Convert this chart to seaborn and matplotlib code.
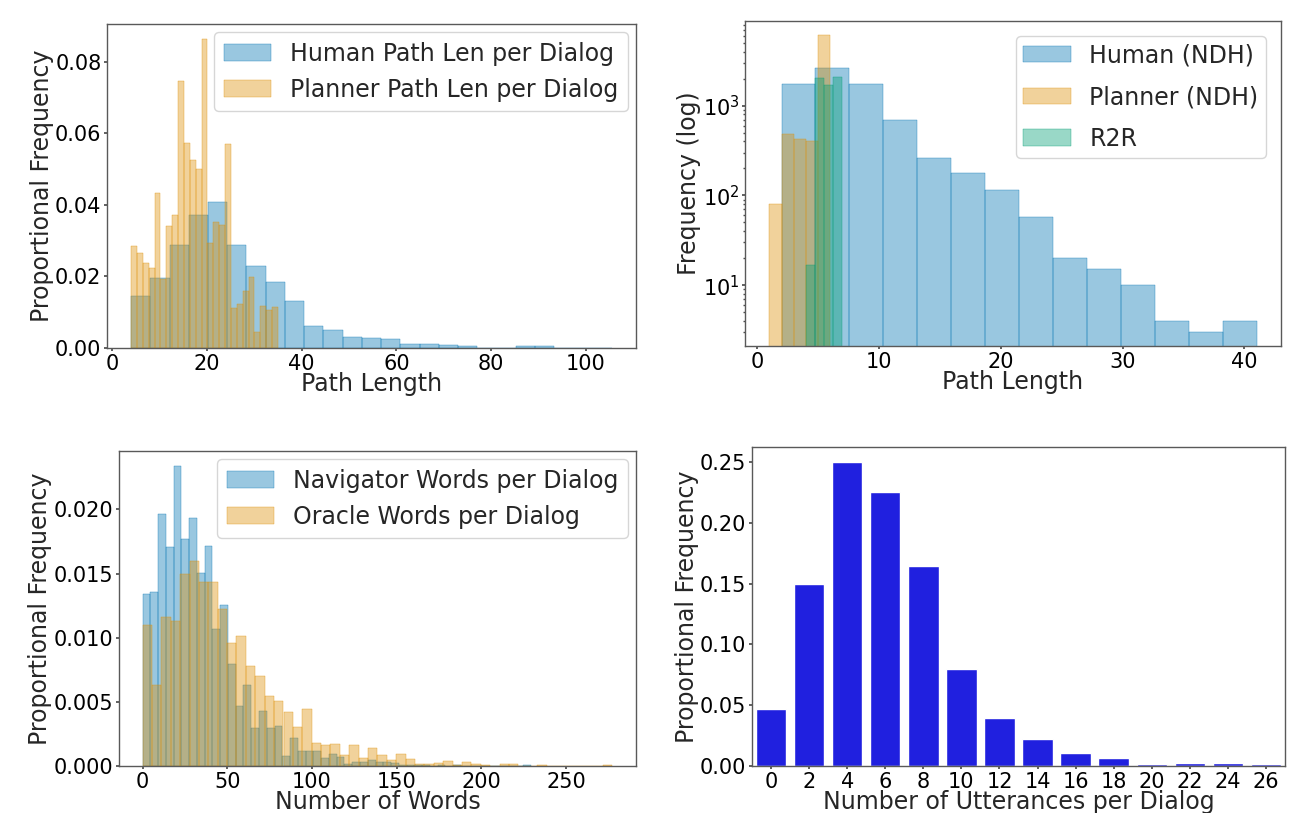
import numpy as np
import matplotlib
matplotlib.use("Agg")
import matplotlib.pyplot as plt
import seaborn as sns

# ---------------- data ----------------
# Top-left: path length per dialog (density, 25 bins each)
human_path_range = (4.0, 105.5)
human_path_density = [0.0144, 0.0195, 0.0289, 0.0371, 0.0408, 0.0289, 0.0230, 0.0185,
                      0.0131, 0.0061, 0.0050, 0.0030, 0.0027, 0.0024, 0.0010, 0.0010,
                      0.00075, 0.00047, 0.0001, 0.00005, 0.00047, 0.00047, 0.00005,
                      0.00005, 0.00005]
planner_path_range = (4.0, 35.0)
planner_path_density = [0.0286, 0.0264, 0.0237, 0.0223, 0.0434, 0.0192, 0.0340, 0.0371,
                        0.0746, 0.0574, 0.0524, 0.0500, 0.0862, 0.0292, 0.0351, 0.0343,
                        0.0571, 0.0113, 0.0124, 0.0158, 0.0197, 0.0045, 0.0118, 0.0106,
                        0.0115]

# Top-right: path length counts (log)
ndh_human_range = (2.0, 41.0)
ndh_human_counts = [1760, 2625, 1760, 698, 264, 178, 116, 57, 20, 15, 10, 4, 3, 4]
ndh_planner_range = (1.0, 6.0)
ndh_planner_counts = [81, 488, 426, 408, 6160]
r2r_range = (4.0, 7.0)
r2r_counts = [17, 2030, 1715, 2100]

# Bottom-left: words per dialog (density, 50 bins each)
nav_words_range = (0.0, 229.3)
nav_words_density = [0.01338, 0.01354, 0.01963, 0.01706, 0.02338, 0.01768, 0.01932, 0.01502,
                     0.01713, 0.01065, 0.01253, 0.00792, 0.00464, 0.00628, 0.00300, 0.00432,
                     0.00294, 0.00315, 0.00080, 0.00216, 0.00120, 0.00120, 0.00120, 0.00065,
                     0.00096, 0.00070, 0.00018, 0.00029, 0.00029, 0.00050, 0.00029, 0.00029,
                     0.00020, 0.00010, 0.00010, 0.00008, 0.00005, 0.0, 0.00005, 0.0,
                     0.00005, 0.0, 0.0, 0.0, 0.0, 0.0, 0.0, 0.0, 0.0, 0.00010]
ora_words_range = (0.0, 277.5)
ora_words_density = [0.01096, 0.00628, 0.01161, 0.01128, 0.01495, 0.01596, 0.01432, 0.01432,
                     0.01221, 0.00961, 0.01010, 0.00776, 0.00698, 0.00542, 0.00503, 0.00424,
                     0.00307, 0.00448, 0.00182, 0.00167, 0.00174, 0.00089, 0.00167, 0.00065,
                     0.00143, 0.00089, 0.00050, 0.00096, 0.00057, 0.00018, 0.00018, 0.00026,
                     0.00042, 0.00010, 0.00034, 0.00018, 0.00010, 0.0, 0.00018, 0.00018,
                     0.0, 0.0, 0.00005, 0.0, 0.0, 0.0, 0.0, 0.0, 0.0, 0.00005]

# Bottom-right: utterances per dialog
utter_labels = ["0", "2", "4", "6", "8", "10", "12", "14", "16", "18", "20", "22", "24", "26"]
utter_freq = [0.0466, 0.1497, 0.2500, 0.2257, 0.1644, 0.0801, 0.0393, 0.0221, 0.0106,
              0.0065, 0.0016, 0.0025, 0.0025, 0.0016]

# ---------------- style ----------------
sns.set_theme(style="ticks", palette="colorblind")
plt.rcParams.update({
    "font.family": ["DejaVu Sans"],
    "xtick.labelsize": 15, "ytick.labelsize": 15,
    "axes.labelsize": 17, "legend.fontsize": 17,
    "xtick.major.size": 2.2, "ytick.major.size": 2.2,
    "xtick.minor.size": 1.3, "ytick.minor.size": 1.3,
    "xtick.major.pad": 1.8, "ytick.major.pad": 1.8,
    "xtick.color": "0.3", "ytick.color": "0.3",
    "xtick.labelcolor": "black", "ytick.labelcolor": "black",
    "axes.edgecolor": "0.35", "axes.linewidth": 1.0,
    "legend.frameon": True, "legend.framealpha": 0.8, "legend.edgecolor": "0.8",
    "legend.fancybox": True,
})
pal = sns.color_palette("colorblind")
blue, orange, green = pal[0], pal[1], pal[2]

W, H = 1289, 813
fig = plt.figure(figsize=(W / 100, H / 100), dpi=100)


def ax_px(left, top, right, bottom):
    return fig.add_axes([left / W, 1 - bottom / H, (right - left) / W, (bottom - top) / H])


def hist_from(ax, rng, vals, color, label):
    n = len(vals)
    edges = np.linspace(rng[0], rng[1], n + 1)
    centers = (edges[:-1] + edges[1:]) / 2
    sns.histplot(x=list(centers), weights=list(vals), bins=list(edges), stat="count",
                 color=color, alpha=0.4, edgecolor=color, linewidth=0.25, ax=ax, label=label)


XPAD, YPAD = -1.0, 1.0

# Top-left
ax1 = ax_px(107, 24, 636, 348)
hist_from(ax1, human_path_range, human_path_density, blue, "Human Path Len per Dialog")
hist_from(ax1, planner_path_range, planner_path_density, orange, "Planner Path Len per Dialog")
ax1.set_xlabel("Path Length", labelpad=XPAD)
ax1.set_ylabel("Proportional Frequency", labelpad=YPAD)
ax1.legend(loc="upper right", borderaxespad=0.35)

# Top-right
ax2 = ax_px(745, 21, 1281, 346)
hist_from(ax2, ndh_human_range, ndh_human_counts, blue, "Human (NDH)")
hist_from(ax2, ndh_planner_range, ndh_planner_counts, orange, "Planner (NDH)")
hist_from(ax2, r2r_range, r2r_counts, green, "R2R")
ax2.set_yscale("log")
ax2.set_ylim(2.1, 8800)
ax2.set_xlabel("Path Length", labelpad=XPAD)
ax2.set_ylabel("Frequency (log)", labelpad=YPAD)
ax2.legend(loc="upper right", borderaxespad=0.65, labelspacing=0.75, borderpad=0.3)

# Bottom-left
ax3 = ax_px(119, 451, 636, 766)
hist_from(ax3, nav_words_range, nav_words_density, blue, "Navigator Words per Dialog")
hist_from(ax3, ora_words_range, ora_words_density, orange, "Oracle Words per Dialog")
ax3.set_xlabel("Number of Words", labelpad=XPAD)
ax3.set_ylabel("Proportional Frequency", labelpad=YPAD)
ax3.legend(loc="upper right", borderaxespad=0.35)

# Bottom-right
ax4 = ax_px(752, 447, 1285, 766)
sns.barplot(x=utter_labels, y=utter_freq, color="blue", ax=ax4)
ax4.set_xlabel("Number of Utterances per Dialog", labelpad=XPAD)
ax4.set_ylabel("Proportional Frequency", labelpad=YPAD)

for a in (ax1, ax2, ax3, ax4):
    for s in a.spines.values():
        s.set_visible(True)

fig.savefig("out.png", dpi=100)
